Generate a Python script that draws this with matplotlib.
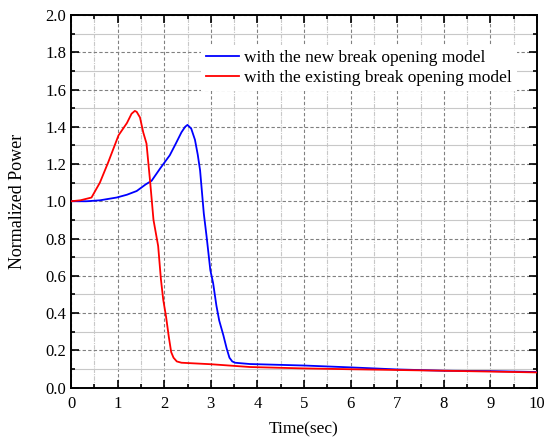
import matplotlib
matplotlib.use("Agg")
import matplotlib.pyplot as plt
from matplotlib.ticker import MultipleLocator

plt.rcParams['font.family'] = ['Liberation Serif', 'DejaVu Serif']

t_new = [0.0, 0.34, 0.62, 0.98, 1.2, 1.41, 1.6, 1.73, 1.91, 2.12, 2.25, 2.37, 2.45, 2.50,
         2.58, 2.66, 2.72, 2.77, 2.85, 2.91, 2.99, 3.05, 3.12, 3.18, 3.27, 3.34, 3.40, 3.46,
         3.52, 3.84, 5.0, 6.0, 7.0, 8.0, 9.0, 10.0]
p_new = [1.0, 1.0, 1.005, 1.02, 1.035, 1.055, 1.09, 1.11, 1.175, 1.247, 1.31, 1.37, 1.40, 1.41,
         1.39, 1.33, 1.25, 1.166, 0.934, 0.81, 0.63, 0.56, 0.44, 0.36, 0.28, 0.21, 0.16, 0.14,
         0.133, 0.126, 0.118, 0.108, 0.097, 0.09, 0.088, 0.083]

t_old = [0.0, 0.2, 0.44, 0.62, 0.8, 1.02, 1.2, 1.30, 1.37, 1.41, 1.48, 1.55, 1.62, 1.70, 1.77,
         1.87, 1.93, 1.98, 2.04, 2.10, 2.15, 2.20, 2.27, 2.37, 3.0, 3.84, 4.91, 6.0, 8.0, 10.0]
p_old = [1.0, 1.005, 1.02, 1.10, 1.21, 1.354, 1.42, 1.47, 1.485, 1.48, 1.45, 1.37, 1.31, 1.1, 0.90,
         0.76, 0.58, 0.47, 0.38, 0.27, 0.19, 0.16, 0.14, 0.133, 0.125, 0.11, 0.103, 0.098, 0.09, 0.081]

labels = ['with the new break opening model', 'with the existing break opening model']

fig = plt.figure(figsize=(5.45, 4.41), dpi=100)
ax = fig.add_axes([71/545, 1-387.5/441, (537-71)/545, (387.5-15)/441])

ax.plot(t_new, p_new, color='#0000ff', lw=1.3, label=labels[0], zorder=3)
ax.plot(t_old, p_old, color='#ff0000', lw=1.3, label=labels[1], zorder=3)

ax.set_xlim(0, 10)
ax.set_ylim(0, 2.0)
ax.xaxis.set_major_locator(MultipleLocator(1))
ax.xaxis.set_minor_locator(MultipleLocator(0.5))
ax.yaxis.set_major_locator(MultipleLocator(0.2))
ax.yaxis.set_minor_locator(MultipleLocator(0.1))
ax.set_yticks([i * 0.2 for i in range(11)])
ax.set_yticklabels([f'{i * 0.2:.1f}' for i in range(11)])

ax.grid(which='major', axis='both', color='#808080', linestyle=(0, (3, 2)), lw=0.8)
ax.grid(which='minor', axis='x', color='#c8c8c8', linestyle=(0, (4, 1, 1, 1)), lw=0.8)
ax.grid(which='minor', axis='y', color='#c8c8c8', linestyle='-', lw=0.8)
ax.set_axisbelow(True)

ax.tick_params(which='both', direction='in', top=True, right=True, labelsize=12, width=1.2)
ax.tick_params(which='major', length=6)
ax.tick_params(which='minor', length=3)
ax.tick_params(axis='x', which='major', pad=6)
for s in ax.spines.values():
    s.set_linewidth(1.4)

ax.set_xlabel('Time(sec)', fontsize=12.5, labelpad=7)
ax.set_ylabel('Normalized Power', fontsize=13, labelpad=14)

leg = ax.legend(loc='upper left', bbox_to_anchor=(0.278, 0.92), frameon=True, fontsize=12.5,
                handlelength=1.9, handletextpad=0.3, labelspacing=0.22, borderpad=0.3,
                borderaxespad=0)
leg.get_frame().set_edgecolor('none')
leg.get_frame().set_facecolor('white')
leg.get_frame().set_alpha(1)
leg.get_frame().set_boxstyle('square', pad=0)

fig.savefig('out.png', dpi=100)
